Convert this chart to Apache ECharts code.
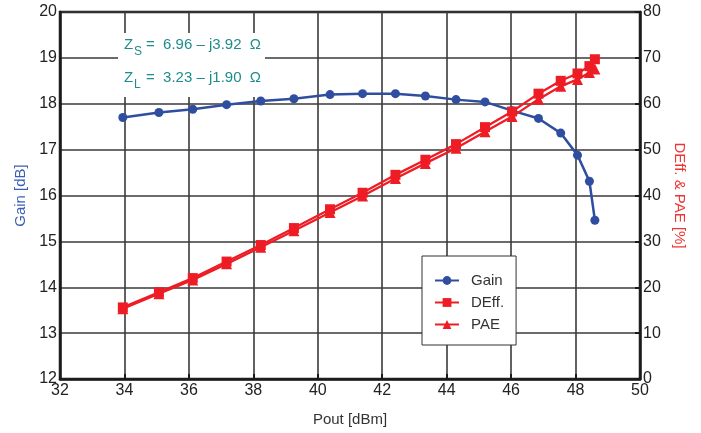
<!DOCTYPE html>
<html>
<head>
<meta charset="utf-8">
<script src="https://cdn.jsdelivr.net/npm/echarts@6/dist/echarts.min.js"></script>
<style>
html,body{margin:0;padding:0;background:#fff;}
#chart{width:701px;height:433px;}
</style>
</head>
<body>
<div id="chart"></div>
<script>
// Data
var pout = [33.95, 35.07, 36.12, 37.17, 38.23, 39.26, 40.38, 41.39, 42.41, 43.34, 44.29, 45.19, 46.03, 46.85, 47.54, 48.06, 48.43, 48.60];
var gain = [17.70, 17.81, 17.88, 17.98, 18.06, 18.11, 18.20, 18.22, 18.22, 18.17, 18.09, 18.04, 17.85, 17.68, 17.36, 16.88, 16.31, 15.46];
var deff = [15.6, 18.9, 22.0, 25.6, 29.2, 32.9, 37.0, 40.6, 44.5, 47.8, 51.2, 54.9, 58.3, 62.2, 65.0, 66.6, 68.2, 69.7];
var pae  = [15.3, 18.6, 21.6, 25.1, 28.7, 32.3, 36.3, 39.9, 43.7, 47.0, 50.3, 53.9, 57.2, 61.0, 63.8, 65.3, 66.8, 67.6];
var zsText = "=  6.96 \u2013 j3.92  \u03A9";
var zlText = "=  3.23 \u2013 j1.90  \u03A9";

function pairs(xs, ys){ return xs.map(function(x,i){ return [x, ys[i]]; }); }

var FONT = "Liberation Sans";
var BLUE = "#2f4e9f";
var RED = "#ee1c25";
var TEAL = "#1e8c8c";
var GRIDC = "#3a3a3a";
var LABEL = {fontFamily: FONT, fontSize: 16, color: '#222'};

var chart = echarts.init(document.getElementById('chart'), null, {renderer:'canvas'});
var option = {
  animation: false,
  backgroundColor: '#fff',
  textStyle: {fontFamily: FONT},
  grid: {left: 60, right: 61, top: 12, bottom: 54, show: true, borderColor: '#1a1a1a', borderWidth: 2.5, backgroundColor: 'transparent'},
  legend: {
    orient: 'vertical', left: 422, top: 256,
    backgroundColor: '#fff', borderColor: '#333', borderWidth: 1,
    padding: [17, 12, 13, 12], itemGap: 7, itemWidth: 24, itemHeight: 11,
    textStyle: {fontFamily: FONT, fontSize: 15, color: '#333', padding: [0,0,0,7]},
    data: ['Gain', 'DEff.', 'PAE']
  },
  xAxis: {
    type: 'value', min: 32, max: 50, interval: 2,
    name: 'Pout [dBm]', nameLocation: 'middle', nameGap: 33,
    nameTextStyle: {fontFamily: FONT, fontSize: 15, color: '#333'},
    axisLine: {show: true, lineStyle: {color: '#1a1a1a', width: 2.5}},
    axisTick: {show: true, inside: true, length: 5, lineStyle: {color: '#1a1a1a', width: 2}},
    axisLabel: {fontFamily: FONT, fontSize: 16, color: '#222', margin: 4, formatter: '{a|{value}}', rich: {a: LABEL}},
    splitLine: {show: true, lineStyle: {color: GRIDC, width: 1.6}}
  },
  yAxis: [{
    type: 'value', min: 12, max: 20, interval: 1, position: 'left',
    name: 'Gain [dB]', nameLocation: 'middle', nameGap: 32,
    nameTextStyle: {fontFamily: FONT, fontSize: 15, color: '#3b5fb5'},
    axisLine: {show: true, lineStyle: {color: '#1a1a1a', width: 2.5}},
    axisTick: {show: false},
    axisLabel: {fontFamily: FONT, fontSize: 16, color: '#222', margin: 3, formatter: '{a|{value}}', rich: {a: LABEL}},
    splitLine: {show: true, lineStyle: {color: GRIDC, width: 1.6}}
  }, {
    type: 'value', min: 0, max: 80, interval: 10, position: 'right',
    name: 'DEff. & PAE [%]', nameLocation: 'middle', nameGap: 32, nameRotate: -90,
    nameTextStyle: {fontFamily: FONT, fontSize: 15, color: '#ee3535'},
    axisLine: {show: true, lineStyle: {color: '#1a1a1a', width: 2.5}},
    axisTick: {show: true, inside: true, length: 5, lineStyle: {color: '#1a1a1a', width: 2}},
    axisLabel: {fontFamily: FONT, fontSize: 16, color: '#222', margin: 3, formatter: '{a|{value}}', rich: {a: LABEL}},
    splitLine: {show: false}
  }],
  series: [{
    name: 'Gain', type: 'line', yAxisIndex: 0, data: pairs(pout, gain),
    symbol: 'circle', symbolSize: 9,
    lineStyle: {color: BLUE, width: 2.5}, itemStyle: {color: BLUE}, z: 3
  }, {
    name: 'DEff.', type: 'line', yAxisIndex: 1, data: pairs(pout, deff),
    symbol: 'rect', symbolSize: 10,
    lineStyle: {color: RED, width: 2.3}, itemStyle: {color: RED}, z: 4
  }, {
    name: 'PAE', type: 'line', yAxisIndex: 1, data: pairs(pout, pae),
    symbol: 'triangle', symbolSize: 11,
    lineStyle: {color: RED, width: 2.3}, itemStyle: {color: RED}, z: 4
  }],
  graphic: [
    {type: 'rect', left: 118, top: 33, shape: {width: 147, height: 64}, style: {fill: '#fff'}, z: 1},
    {type: 'text', left: 124, top: 37, style: {text: 'Z', fill: TEAL, font: '15px ' + FONT}, z: 10},
    {type: 'text', left: 134, top: 46, style: {text: 'S', fill: TEAL, font: '12px ' + FONT}, z: 10},
    {type: 'text', left: 146, top: 37, style: {text: zsText, fill: TEAL, font: '15px ' + FONT}, z: 10},
    {type: 'text', left: 124, top: 70, style: {text: 'Z', fill: TEAL, font: '15px ' + FONT}, z: 10},
    {type: 'text', left: 134, top: 79, style: {text: 'L', fill: TEAL, font: '12px ' + FONT}, z: 10},
    {type: 'text', left: 146, top: 70, style: {text: zlText, fill: TEAL, font: '15px ' + FONT}, z: 10}
  ]
};
chart.setOption(option);
</script>
</body>
</html>
